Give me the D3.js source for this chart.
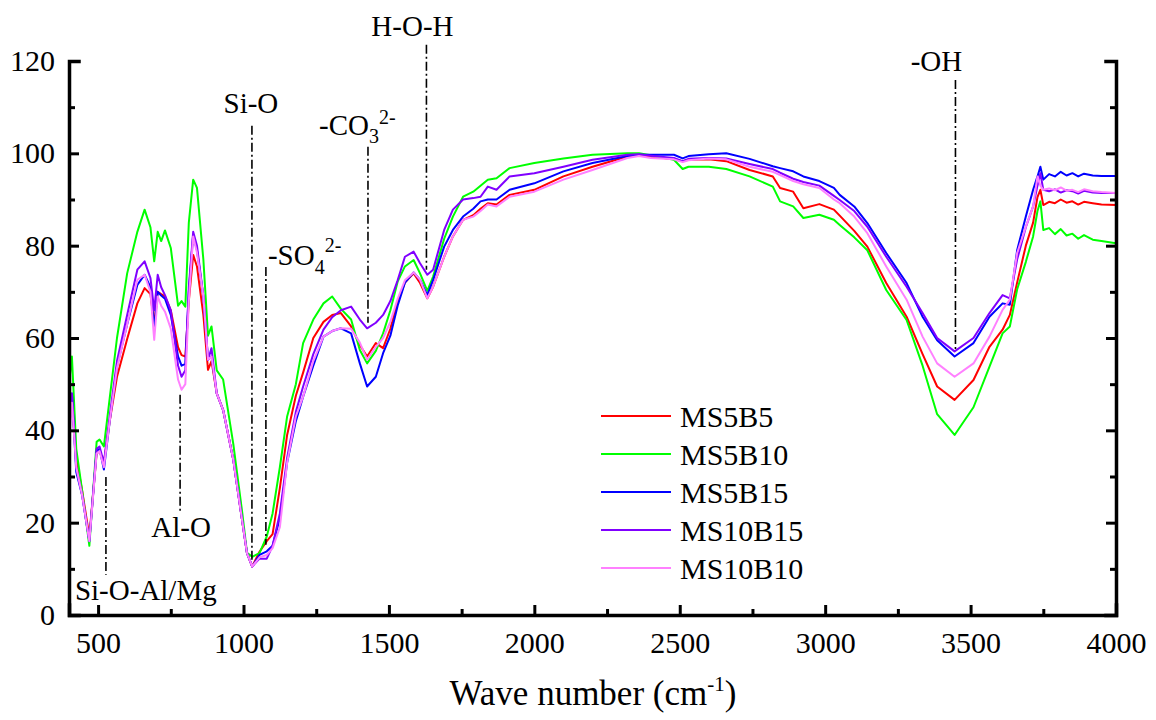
<!DOCTYPE html>
<html>
<head>
<meta charset="utf-8">
<script src="https://cdn.jsdelivr.net/npm/d3@7"></script>
<style>
  body { margin: 0; background: #fff; }
  text { font-family: "Liberation Serif", "Times New Roman", serif; fill: #000; }
</style>
</head>
<body>
<script>
var w = 1156;
var h = 720;

// wave numbers (cm-1) shared by all spectra
var waveNumber = [400, 410, 425, 445, 470, 495, 505, 520, 540, 565, 600, 635, 660, 680, 693, 705, 717, 730, 750, 775,
  787, 800, 812, 827, 840, 862, 878, 890, 908, 930, 965, 995, 1012, 1030, 1055, 1080, 1100, 1125, 1150, 1180,
  1205, 1240, 1275, 1305, 1335, 1370, 1400, 1425, 1455, 1480, 1505, 1530, 1555, 1585, 1607, 1632, 1652, 1690, 1720, 1755,
  1790, 1815, 1840, 1870, 1915, 2000, 2100, 2200, 2320, 2360, 2400, 2480, 2510, 2530, 2600, 2660, 2740, 2820, 2845, 2890,
  2925, 2980, 3030, 3050, 3100, 3145, 3210, 3280, 3335, 3385, 3445, 3510, 3565, 3610, 3635, 3660, 3690, 3715, 3730, 3740,
  3750, 3770, 3790, 3810, 3830, 3850, 3870, 3890, 3920, 3950, 4000];

var ms5b5 = [44, 46, 34, 27, 17, 35, 35.5, 33, 42, 51.6, 59.8, 67.5, 70.8, 69.5, 63, 70, 69.5, 69, 66, 58,
  56.3, 56, 68, 78, 75.5, 65, 53.1, 55, 48, 44.4, 33.6, 20.6, 13.4, 10.5, 13.7, 16, 17.5, 27.5, 39, 47.5,
  52.5, 60, 63.5, 65, 65.4, 62.5, 58.5, 56, 58.9, 57.8, 62, 68, 72, 74, 71.9, 68.6, 71.1, 77.6, 82, 85.6,
  86.6, 88, 89.2, 88.9, 91, 92.1, 95, 97.1, 99.3, 99.7, 99.3, 98.7, 98.3, 98.6, 98.7, 98.3, 96.4, 95, 92.5, 91.7,
  88.1, 89, 87.8, 86.5, 83.2, 79.8, 71.9, 64.6, 56.5, 49.5, 46.6, 50.9, 58.1, 61.8, 65, 72, 80, 85, 90.5, 92.1,
  88.8, 89.5, 89.2, 90, 89.3, 89.6, 88.9, 89.5, 89.2, 88.9, 88.8];

var ms5b10 = [50, 56, 36, 27, 15, 37.5, 38, 36.5, 47, 60, 74, 83, 87.8, 84, 76.6, 83, 81, 83.3, 79.5, 67,
  68, 66.8, 85, 94.3, 92.5, 77, 60.5, 62.5, 53, 51, 37, 22.5, 13.5, 12.6, 13.4, 17, 22, 32, 43, 50,
  58.9, 64, 67.5, 69, 66.3, 64, 57.4, 54.5, 57.2, 61, 66, 72.2, 75.5, 76.9, 74, 70.2, 73.3, 81.5, 86.3, 90.6,
  91.7, 93, 94.3, 94.6, 96.8, 97.9, 98.9, 99.7, 100, 100, 99.6, 98.6, 96.6, 97.1, 97.1, 96.6, 95, 92.8, 89.6, 88.5,
  86, 86.7, 85.6, 84.5, 81.8, 79, 70.4, 63.9, 54, 43.5, 39, 45, 53.8, 61, 62.5, 70.5, 76.5, 82, 87.5, 89.6,
  83.4, 83.8, 82.5, 83.6, 82.2, 82.6, 81.5, 82.3, 81.3, 81, 80.5];

var ms5b15 = [40, 48, 31, 26, 16, 35.5, 36, 31.5, 42, 53.8, 63, 71.5, 73.7, 71, 62, 70, 69.2, 68.5, 65, 56,
  54, 54.4, 70, 82.4, 79, 69, 55.3, 56, 48, 44.4, 33.6, 20.6, 13.4, 10.5, 13, 13.8, 15, 21, 33, 42,
  47.3, 54, 60.3, 61.5, 62.1, 61, 54.5, 49.5, 51.6, 56.7, 60.5, 67, 72, 74.2, 72.6, 69.3, 72.6, 79.8, 83.4, 86.3,
  88, 89.6, 90, 90, 92.1, 93.5, 96.1, 97.9, 99.4, 99.7, 99.7, 99.7, 98.9, 99.4, 99.8, 100, 98.8, 97.2, 96.8, 96.1,
  95, 94, 92.5, 91, 88.5, 84.9, 78.4, 71.9, 64.6, 59.5, 56, 58.9, 64.6, 67.5, 67.2, 79, 86.3, 92.1, 95, 97.1,
  94.3, 95.5, 95, 96, 95.2, 95.7, 95, 95.6, 95.2, 95.1, 95.1];

var ms10b15 = [40, 48, 32, 26, 16, 36, 36.5, 33, 43, 55, 65, 74.8, 76.6, 73, 66, 73.7, 71, 69.3, 66, 54,
  51.6, 53, 71, 83, 80, 69, 55.3, 57.8, 48, 44.4, 33.6, 20.6, 13.4, 10.5, 12.2, 12.2, 15, 22, 34, 44,
  49.5, 56.5, 61.8, 64.5, 66, 66.8, 64, 62.1, 63.3, 65, 68, 72.5, 77.6, 78.7, 76.2, 73.7, 74.8, 83.4, 87.8, 90,
  90.3, 90.6, 92.8, 92.1, 95, 95.7, 97.1, 98.6, 99.7, 99.8, 99.5, 99, 98.3, 98.8, 99, 98.9, 97.7, 96.6, 95.8, 94.5,
  93.8, 93, 90.8, 89.9, 87.5, 84.1, 77.6, 71.1, 65.4, 60, 57.1, 60, 65.4, 69.3, 68.6, 77, 84, 88.5, 93, 95.7,
  92.1, 91.8, 92.2, 91.5, 92, 91.8, 91.3, 91.9, 91.5, 91.4, 91.4];

var ms10b10 = [38, 46, 32, 26, 16, 35, 35.5, 32, 42, 53.5, 63, 72.6, 73.7, 70, 59.6, 69, 67, 65.7, 62, 51,
  48.8, 50, 68, 82, 78.5, 69, 55.3, 56, 48, 44.4, 33.6, 20.6, 13.4, 10.5, 12.5, 13, 14.5, 19, 33, 43,
  47.3, 55, 60.3, 61.5, 62.1, 62, 59, 55.3, 58.1, 60, 63.5, 68.5, 72.5, 74.2, 72.6, 68.6, 71.1, 77.6, 82, 85.6,
  86.3, 87.5, 88.9, 88.5, 90.6, 91.7, 94.3, 96.4, 99, 99.4, 99, 98.7, 98.1, 98.5, 98.9, 98.7, 97.1, 96, 95.3, 94,
  93.3, 92.5, 90, 89.2, 86.3, 82.7, 75.5, 68.3, 60.3, 54.5, 51.6, 54.5, 60.3, 66.1, 68.3, 78.4, 84.1, 88.5, 95, 93,
  92.1, 92.4, 92, 92.6, 91.9, 92.1, 91.6, 92.2, 91.8, 91.6, 91.4];

var seriesNames = ["MS5B5", "MS5B10", "MS5B15", "MS10B15", "MS10B10"];
var seriesValues = [ms5b5, ms5b10, ms5b15, ms10b15, ms10b10];
var seriesColors = ["#ff0000", "#00ff00", "#0000ff", "#8000ff", "#ff80ff"];

var xTicks = [500, 1000, 1500, 2000, 2500, 3000, 3500, 4000];
var yTicks = [0, 20, 40, 60, 80, 100, 120];

// band markers: wave number, top and bottom of the dash-dot line (in % units)
var bandPos = [527, 782, 1029, 1077, 1428, 1629, 3448];
var bandTop = [29.9, 47.7, 106, 75.4, 101.4, 123.5, 115.9];
var bandBottom = [8.7, 22.3, 11.3, 15.2, 63.3, 74.8, 57];

var mLeft = 69, mRight = 1116, mTop = 61, mBottom = 615;

var x = d3.scaleLinear().domain([400, 4000]).range([mLeft, mRight]);
var y = d3.scaleLinear().domain([0, 120]).range([mBottom, mTop]);

var svg = d3.select("body").append("svg")
  .attr("width", w)
  .attr("height", h);

svg.append("defs").append("clipPath").attr("id", "plot")
  .append("rect")
  .attr("x", mLeft).attr("y", mTop - 10)
  .attr("width", mRight - mLeft).attr("height", mBottom - mTop + 10);

// spectra
var line = d3.line()
  .x(function(d, i){ return x(waveNumber[i]); })
  .y(function(d){ return y(d); });

svg.append("g").attr("clip-path", "url(#plot)")
  .selectAll("path")
  .data(seriesValues)
  .enter()
  .append("path")
  .attr("d", line)
  .attr("fill", "none")
  .attr("stroke", function(d, i){ return seriesColors[i]; })
  .attr("stroke-width", 2)
  .attr("stroke-linejoin", "round");

// axes
function styleAxis(g) {
  g.select(".domain").attr("stroke-width", 3.5).attr("stroke-linecap", "square");
  g.selectAll(".tick line").attr("stroke-width", 3);
  g.selectAll(".tick text").attr("font-size", "30px");
}

var xAxis = svg.append("g")
  .attr("transform", "translate(0," + mBottom + ")")
  .call(d3.axisBottom(x).tickValues(d3.range(500, 4001, 250)).tickSize(-10).tickPadding(17)
    .tickFormat(function(d){ return xTicks.indexOf(d) >= 0 ? d : ""; }))
  .call(styleAxis);
xAxis.selectAll(".tick line").attr("y2", function(d){ return xTicks.indexOf(d) >= 0 ? -10 : -6; });

var yAxis = svg.append("g")
  .attr("transform", "translate(" + mLeft + ",0)")
  .call(d3.axisLeft(y).tickValues(d3.range(0, 121, 10)).tickSize(-10).tickPadding(14)
    .tickFormat(function(d){ return yTicks.indexOf(d) >= 0 ? d : ""; }))
  .call(styleAxis);
yAxis.selectAll(".tick line").attr("x2", function(d){ return yTicks.indexOf(d) >= 0 ? 10 : 6; });

var yAxisR = svg.append("g")
  .attr("transform", "translate(" + mRight + ",0)")
  .call(d3.axisRight(y).tickValues(d3.range(0, 121, 10)).tickSize(-10).tickFormat(""))
  .call(styleAxis);
yAxisR.selectAll(".tick line").attr("x2", function(d){ return yTicks.indexOf(d) >= 0 ? -10 : -6; });

// axis title
var title = svg.append("text")
  .attr("x", 593).attr("y", 705)
  .attr("text-anchor", "middle")
  .attr("font-size", "35px");
title.append("tspan").text("Wave number (cm");
title.append("tspan").attr("dy", -14).attr("font-size", "21px").text("-1");
title.append("tspan").attr("dy", 14).text(")");

// band marker lines
svg.selectAll(".band")
  .data(bandPos)
  .enter()
  .append("line")
  .attr("class", "band")
  .attr("x1", function(d){ return x(d); })
  .attr("x2", function(d){ return x(d); })
  .attr("y1", function(d, i){ return y(bandTop[i]); })
  .attr("y2", function(d, i){ return y(bandBottom[i]); })
  .attr("stroke", "#000")
  .attr("stroke-width", 1.6)
  .attr("stroke-dasharray", "9,3,2,3");

// band labels
function bandLabel(i, dx, dy, anchor, atBottom, parts) {
  var t = svg.append("text")
    .attr("x", x(bandPos[i]) + dx)
    .attr("y", y(atBottom ? bandBottom[i] : bandTop[i]) + dy)
    .attr("text-anchor", anchor)
    .attr("font-size", "29px");
  var shift = 0;
  parts.forEach(function(p){
    var s = t.append("tspan").text(p[0]);
    var want = p[1];
    if (want != shift) { s.attr("dy", want - shift); shift = want; }
    if (p[2]) { s.attr("font-size", p[2]); }
  });
}
bandLabel(0, -31, 25, "start", true, [["Si-O-Al/Mg", 0]]);
bandLabel(1, 1, 25, "middle", true, [["Al-O", 0]]);
bandLabel(2, -1, -13, "middle", false, [["Si-O", 0]]);
bandLabel(3, 2, -2, "start", false, [["-SO", 0], ["4", 9, "20px"], ["2-", -13, "20px"]]);
bandLabel(4, -49, -12, "start", false, [["-CO", 0], ["3", 8, "20px"], ["2-", -11, "20px"]]);
bandLabel(5, -14, -9, "middle", false, [["H-O-H", 0]]);
bandLabel(6, -19, -9, "middle", false, [["-OH", 0]]);

// legend
var legend = svg.selectAll(".legend")
  .data(seriesNames)
  .enter()
  .append("g")
  .attr("class", "legend")
  .attr("transform", function(d, i){ return "translate(601," + (416 + i * 38) + ")"; });

legend.append("line")
  .attr("x1", 0).attr("x2", 70)
  .attr("stroke", function(d, i){ return seriesColors[i]; })
  .attr("stroke-width", 2);

legend.append("text")
  .attr("x", 79).attr("y", 11)
  .attr("font-size", "30px")
  .text(function(d){ return d; });
</script>
</body>
</html>
